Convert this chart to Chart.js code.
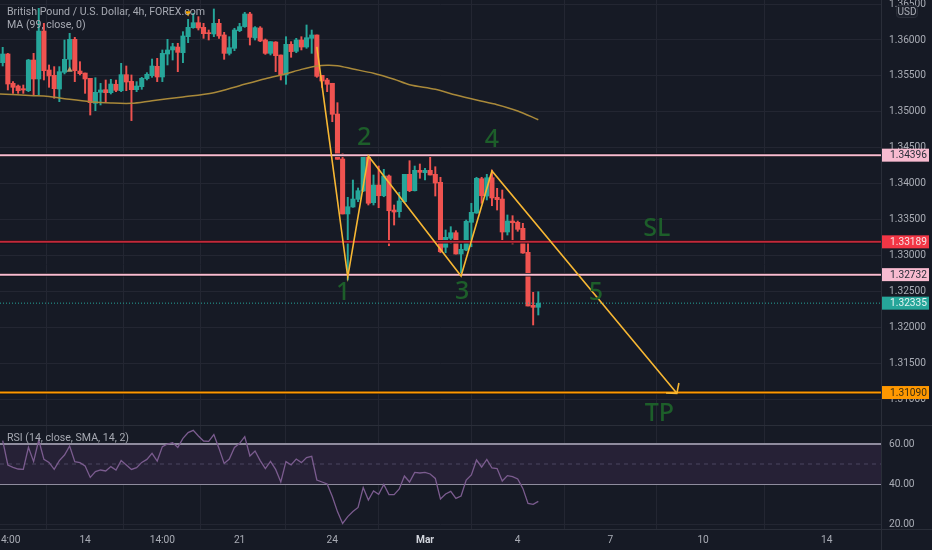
<!DOCTYPE html>
<html lang="en">
<head>
<meta charset="UTF-8">
<title>GBP/USD 4h</title>
<script src="https://cdn.jsdelivr.net/npm/chart.js"></script>
<style>
    html, body { margin: 0; padding: 0; background: #161a25; overflow: hidden; }
    #wrap { position: relative; width: 932px; height: 550px; }
</style>
</head>
<body>
<div id="wrap"><canvas id="chart" width="932" height="550"></canvas></div>
<script>
// candles
const opens = [1.35684,1.35805,1.35397,1.35359,1.35322,1.35294,1.35721,1.35457,1.36125,1.35582,1.35508,1.35317,1.3555,1.35731,1.36009,1.35568,1.3554,1.35466,1.35118,1.35271,1.35308,1.35266,1.35383,1.35294,1.35517,1.35424,1.35308,1.3535,1.35462,1.35503,1.35633,1.35485,1.35805,1.35861,1.35902,1.35823,1.36046,1.36172,1.36241,1.36176,1.36102,1.36084,1.36232,1.3607,1.35814,1.35884,1.3613,1.36186,1.36362,1.36028,1.36167,1.36,1.35814,1.35972,1.35791,1.35513,1.3594,1.35842,1.36,1.35902,1.36023,1.3607,1.35508,1.35443,1.35397,1.34969,1.34343,1.33577,1.33674,1.33781,1.33897,1.34366,1.33734,1.3398,1.33831,1.34106,1.33632,1.33609,1.33748,1.34129,1.33901,1.34185,1.34152,1.34185,1.34129,1.34018,1.33113,1.33238,1.33316,1.33019,1.33075,1.33461,1.3359,1.34068,1.33827,1.34082,1.33809,1.33785,1.33326,1.33479,1.33461,1.33377,1.33043,1.32305,1.32277];
const highs = [1.35898,1.35814,1.3542,1.35373,1.35373,1.3573,1.35814,1.36441,1.36232,1.35652,1.35629,1.35629,1.36,1.36093,1.36037,1.35698,1.3554,1.35466,1.35475,1.35396,1.35443,1.35452,1.35443,1.35675,1.35638,1.35513,1.3542,1.3548,1.35545,1.35735,1.35745,1.35861,1.36009,1.35954,1.35954,1.36116,1.36288,1.36371,1.36325,1.36232,1.36139,1.36432,1.36288,1.36107,1.36046,1.36163,1.36232,1.36385,1.36385,1.36186,1.36186,1.36014,1.35977,1.35977,1.35791,1.36046,1.35977,1.36023,1.36046,1.36209,1.36139,1.3607,1.35508,1.35466,1.35397,1.35127,1.34422,1.33809,1.3405,1.33939,1.34375,1.34375,1.3412,1.34245,1.34199,1.3412,1.33702,1.33879,1.34129,1.34319,1.34245,1.34273,1.34213,1.34375,1.34235,1.34088,1.33354,1.334,1.33344,1.33159,1.33493,1.33726,1.34088,1.34088,1.34129,1.34189,1.33934,1.33911,1.33563,1.33553,1.33479,1.33447,1.33168,1.32486,1.32494];
const lows = [1.35638,1.35304,1.35257,1.35257,1.35257,1.3528,1.35234,1.35234,1.35443,1.35341,1.35188,1.35141,1.35527,1.35605,1.3542,1.35513,1.35257,1.34955,1.35016,1.35095,1.35141,1.35248,1.3528,1.3528,1.35294,1.34877,1.3528,1.35313,1.35443,1.3548,1.3542,1.3542,1.35652,1.35721,1.35559,1.35684,1.35963,1.36163,1.36139,1.36023,1.36,1.36046,1.36023,1.35731,1.35791,1.35851,1.36116,1.36176,1.3593,1.36,1.35977,1.358,1.35791,1.35559,1.35443,1.35383,1.35759,1.35823,1.35861,1.35884,1.35814,1.3548,1.35341,1.3528,1.34862,1.34338,1.33577,1.32657,1.3367,1.33748,1.33887,1.33702,1.33702,1.33664,1.33817,1.33135,1.33423,1.33531,1.33734,1.33887,1.33897,1.34074,1.3405,1.3412,1.33827,1.33037,1.33037,1.33168,1.33019,1.32727,1.33065,1.33121,1.33586,1.33726,1.33772,1.33692,1.33632,1.33191,1.33284,1.33159,1.33336,1.33029,1.32295,1.32031,1.3217];
const closes = [1.35805,1.35387,1.35341,1.35294,1.35304,1.35721,1.35457,1.36125,1.35573,1.35499,1.35322,1.35559,1.35731,1.36009,1.35573,1.35531,1.35457,1.35127,1.35271,1.35304,1.35266,1.35387,1.35299,1.35517,1.35415,1.35308,1.35359,1.35466,1.35522,1.35638,1.35485,1.35814,1.35861,1.35907,1.35828,1.36056,1.36176,1.36241,1.36167,1.36088,1.36088,1.36232,1.36056,1.35814,1.35893,1.36139,1.36186,1.36362,1.36037,1.36172,1.35986,1.35814,1.35977,1.35782,1.35513,1.3594,1.35838,1.36,1.35902,1.36032,1.3607,1.35494,1.35429,1.35383,1.34965,1.34338,1.33577,1.33678,1.33785,1.33901,1.34366,1.33726,1.3398,1.33831,1.34106,1.33622,1.33604,1.33758,1.34129,1.33901,1.34185,1.34157,1.34185,1.3412,1.34008,1.33051,1.33252,1.33316,1.33019,1.33085,1.33475,1.336,1.34074,1.33831,1.34082,1.338,1.33776,1.33326,1.33479,1.33455,1.33363,1.33033,1.32295,1.32277,1.32335];

// moving average, sampled at candle positions
const maIndex = [-0.524,6,8,12,17,21,25,29,35,41,46,51,55,58,61,63,65,68,72,76,79,84,88,92,96,100,104];
const maValues = [1.35248,1.35225,1.3522,1.35183,1.35141,1.35122,1.35118,1.35155,1.35206,1.35266,1.35364,1.35461,1.35531,1.35591,1.35638,1.35648,1.35642,1.35596,1.35536,1.35453,1.35377,1.35313,1.35234,1.35164,1.35099,1.35011,1.3489];

const rsiValues = [61.7,49.5,48.3,47.5,47.3,58.3,51.2,62,52.3,50.8,47.3,51.7,54.5,59,51.2,50.7,49,43.3,46.2,47,46.5,48.7,47,51.7,49.5,47.3,48.2,50.8,52.3,55.3,51.5,58.7,60,60.7,58.3,62.8,65.7,66.8,64,61.5,61.3,64.7,57.8,50.3,52.5,58.3,60.3,63.7,54,56.5,51.7,47.7,51.3,47.3,41,51.2,49.5,52.5,50.7,53.2,53.8,42,41,40,33.7,26.2,20.3,23.7,26.2,28.3,38.2,32,36.5,34.8,39.8,34.7,34.7,37.5,44,41,45.8,45.5,45.8,45,42.8,32.5,35,36.3,32.8,34,42,44.5,52,48.5,52.3,48,47.7,41.5,44.2,43.7,42.5,37.8,30.3,29.8,31.3];

// drawn wave, SL/TP levels
const waveIndex = [61,67,71,89,95,130.9];
const waveValues = [1.35903,1.32699,1.34384,1.32713,1.34175,1.31079];
const arrowIndex = [128.8,130.9,131.3];
const arrowValues = [1.31083,1.31079,1.31223];
const levelValues = [1.34396,1.32732,1.33189,1.3109];
const levelColors = ['#f8bbd0','#f8bbd0','#c2293a','#ff9800'];
const levelBoxes = ['#f8bbd0','#f8bbd0','#f23645','#ff9800'];
const levelText = ['#2a2e39','#2a2e39','#f5e4e6','#3a2c10'];
const lastPrice = 1.32335;

// small script markers on the candles
const markerIndex = [36,13];
const markerValues = [1.36376,1.35582];
const markerColors = ['#f7a600','#b99f70'];
const markerRotation = [180,0];

const noteLabels = ['1','2','3','4','5','SL','TP'];
const noteIndex = [66.1,70.2,89.2,95,115.2,127,127.5];
const noteValues = [1.32476,1.34635,1.3249,1.34607,1.32476,1.33368,1.30791];

const priceTicks = [1.31,1.315,1.32,1.325,1.33,1.335,1.34,1.345,1.35,1.355,1.36,1.365];
const rsiTicks = [20,40,60];
const timeIndex = [1,16,31,46,64,82,100,118,136,160];
const timeLabels = ['14:00','14','14:00','21','24','Mar','4','7','10','14'];

const xMin = -0.524, xMax = 170.54;
const up = '#26a69a', down = '#ef5350';
const colors = closes.map((c, i) => c >= opens[i] ? up : down);
const axisText = '#a9acb5';
const gridColor = '#232632';

function hline(value, color, width, axis, order, dash) {
    return {
        type: 'line',
        data: [{x: xMin, y: value}, {x: xMax, y: value}],
        borderColor: color, borderWidth: width, borderDash: dash || [],
        pointRadius: 0, yAxisID: axis, order: order
    };
}

const datasets = [
    // wicks, bodies
    {
        data: highs.map((h, i) => ({x: i, y: [lows[i], h]})),
        backgroundColor: colors, barThickness: 1.3, yAxisID: 'y', order: 12, grouped: false
    },
    {
        data: opens.map((o, i) => ({x: i, y: [o, closes[i]]})),
        backgroundColor: colors, barThickness: 4.4, minBarLength: 1, yAxisID: 'y', order: 11, grouped: false
    },
    {
        type: 'line',
        data: maIndex.map((x, i) => ({x: x, y: maValues[i]})),
        borderColor: '#a9893a', borderWidth: 1.5, pointRadius: 0, tension: 0.3, yAxisID: 'y', order: 8
    },
    {
        type: 'scatter',
        data: markerIndex.map((x, i) => ({x: x, y: markerValues[i]})),
        pointStyle: 'triangle', pointRadius: 3.5, pointBorderWidth: 0,
        pointBackgroundColor: markerColors, pointRotation: markerRotation,
        yAxisID: 'y', order: 4
    },
    hline(lastPrice, up, 1, 'y', 7, [1, 2]),
    {
        type: 'line',
        data: waveIndex.map((x, i) => ({x: x, y: waveValues[i]})),
        borderColor: '#f7b733', borderWidth: 1.6, pointRadius: 0, yAxisID: 'y', order: 2
    },
    {
        type: 'line',
        data: arrowIndex.map((x, i) => ({x: x, y: arrowValues[i]})),
        borderColor: '#f7b733', borderWidth: 1.6, pointRadius: 0, yAxisID: 'y', order: 2
    },
    // RSI pane
    {
        type: 'line',
        data: [{x: xMin, y: rsiTicks[2]}, {x: xMax, y: rsiTicks[2]}],
        borderColor: '#8f8c9e', borderWidth: 2, pointRadius: 0, yAxisID: 'rsi', order: 9,
        fill: {value: rsiTicks[1]}, backgroundColor: '#262136'
    },
    hline(rsiTicks[1], '#8f8c9e', 2, 'rsi', 9),
    hline(50, '#4b4660', 1, 'rsi', 8, [4, 4]),
    {
        type: 'line',
        data: rsiValues.map((v, i) => ({x: i, y: v})),
        borderColor: '#7b5c8f', borderWidth: 1.3, pointRadius: 0, yAxisID: 'rsi', order: 3
    }
];

// horizontal levels with a dark edge under each
levelValues.forEach((v, i) => {
    datasets.push(hline(v, '#0b0d12', 3.5, 'y', 6));
    datasets.push(hline(v, levelColors[i], 2, 'y', 5));
});

const extras = {
    id: 'extras',
    afterDraw(chart) {
        const ctx = chart.ctx, x = chart.scales.x, y = chart.scales.y, area = chart.chartArea;
        ctx.save();

        // pane and axis separators
        ctx.strokeStyle = '#2a2e39';
        ctx.lineWidth = 1;
        ctx.beginPath();
        ctx.moveTo(0, y.bottom + 0.5); ctx.lineTo(chart.width, y.bottom + 0.5);
        ctx.moveTo(0, area.bottom + 0.5); ctx.lineTo(chart.width, area.bottom + 0.5);
        ctx.moveTo(area.right + 0.5, 0); ctx.lineTo(area.right + 0.5, chart.height);
        ctx.stroke();

        // price boxes on the axis
        ctx.font = '10.2px Roboto';
        ctx.textBaseline = 'middle';
        ctx.textAlign = 'left';
        const box = (value, bg, fg) => {
            const py = y.getPixelForValue(value);
            ctx.fillStyle = bg;
            ctx.fillRect(area.right + 1, py - 6.5, 47, 13);
            ctx.fillStyle = fg;
            ctx.fillText(value.toFixed(5), area.right + 9, py + 0.5);
        };
        box(lastPrice, up, '#e4f4f2');
        levelValues.forEach((v, i) => box(v, levelBoxes[i], levelText[i]));

        // currency badge
        ctx.fillStyle = '#1c202b';
        ctx.strokeStyle = '#2a2e39';
        ctx.beginPath();
        ctx.roundRect(area.right + 15.5, 5.5, 21, 12, 3);
        ctx.fill();
        ctx.stroke();
        ctx.fillStyle = axisText;
        ctx.font = '10px Roboto';
        ctx.textAlign = 'center';
        ctx.fillText('USD', area.right + 26, 12);

        // chart notes
        ctx.font = '500 25px "Noto Sans"';
        ctx.fillStyle = '#1d5e2a';
        noteLabels.forEach((t, i) => {
            ctx.fillText(t, x.getPixelForValue(noteIndex[i]), y.getPixelForValue(noteValues[i]));
        });

        // legends
        ctx.textAlign = 'left';
        ctx.font = '10.6px Roboto';
        ctx.fillStyle = '#a6a9b2';
        ctx.fillText('British Pound / U.S. Dollar, 4h, FOREX.com', 7, 12.5);
        ctx.fillText('MA (99, close, 0)', 7, 25.5);
        ctx.fillText('RSI (14, close, SMA, 14, 2)', 7, y.bottom + 13.5);
        ctx.restore();
    }
};

new Chart(document.getElementById('chart'), {
    type: 'bar',
    data: {datasets: datasets},
    plugins: [extras],
    options: {
        responsive: false,
        animation: false,
        layout: {padding: 0, autoPadding: false},
        plugins: {legend: {display: false}, tooltip: {enabled: false}},
        scales: {
            x: {
                type: 'linear', min: xMin, max: xMax, offset: false,
                afterBuildTicks: s => { s.ticks = timeIndex.map(v => ({value: v})); },
                afterFit: s => { s.height = 21; s.paddingLeft = 0; s.paddingRight = 0; },
                grid: {color: gridColor, drawTicks: false},
                border: {display: false},
                ticks: {
                    color: ctx => timeLabels[ctx.index] === 'Mar' ? '#d1d4dc' : axisText,
                    font: ctx => ({family: 'Roboto', size: 10.2, weight: timeLabels[ctx.index] === 'Mar' ? 'bold' : 'normal'}),
                    padding: 5,
                    maxRotation: 0, autoSkip: false,
                    callback: v => timeLabels[timeIndex.indexOf(v)]
                }
            },
            y: {
                position: 'right', stack: 'panes', stackWeight: 425, weight: 0,
                min: 1.30638, max: 1.36557,
                afterBuildTicks: s => { s.ticks = priceTicks.map(v => ({value: v})); },
                afterFit: s => { s.width = 51; s.paddingTop = 0; s.paddingBottom = 0; },
                grid: {color: gridColor, drawTicks: false},
                border: {display: false},
                ticks: {
                    color: axisText, font: {family: 'Roboto', size: 10.2}, padding: 8,
                    autoSkip: false, callback: v => v.toFixed(5)
                }
            },
            rsi: {
                position: 'right', stack: 'panes', stackWeight: 104, weight: 1,
                min: 17.5, max: 69.5,
                afterBuildTicks: s => { s.ticks = rsiTicks.map(v => ({value: v})); },
                afterFit: s => { s.width = 51; s.paddingTop = 0; s.paddingBottom = 0; },
                grid: {color: gridColor, drawTicks: false},
                border: {display: false},
                ticks: {
                    color: axisText, font: {family: 'Roboto', size: 10.2}, padding: 8,
                    autoSkip: false, callback: v => v.toFixed(2)
                }
            }
        }
    }
});
</script>
</body>
</html>
